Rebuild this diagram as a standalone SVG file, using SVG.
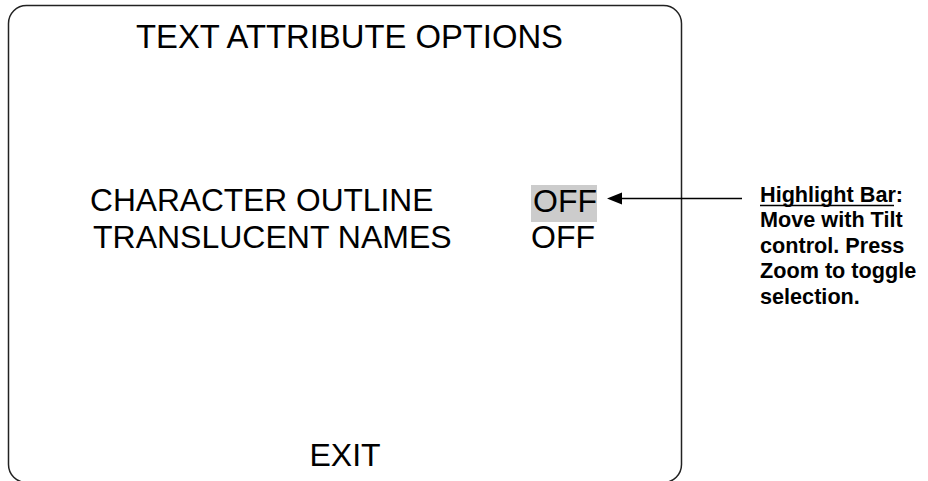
<svg xmlns="http://www.w3.org/2000/svg" width="928" height="481" viewBox="0 0 928 481">
<style>
.t{font-family:"Liberation Sans",Arial,sans-serif;font-size:32px;fill:#000}
.n{font-family:"Liberation Sans",Arial,sans-serif;font-size:22.8px;font-weight:bold;fill:#000}
</style>
<rect width="928" height="481" fill="#fff"/>
<g id="screen">
<rect x="8.5" y="5.5" width="673" height="477" rx="18" ry="18" fill="none" stroke="#222" stroke-width="1.5"/>
<text x="349.5" y="48" text-anchor="middle" style="font-family:'Liberation Sans',Arial,sans-serif;font-size:32.8px;fill:#000">TEXT ATTRIBUTE OPTIONS</text>
</g>
<g id="row-outline">
<text class="t" x="90" y="211" style="font-size:31.7px">CHARACTER OUTLINE</text>
<rect x="531" y="185" width="66" height="37" fill="#cccccc"/>
<text class="t" x="533" y="211.5">OFF</text>
</g>
<g id="row-names">
<text class="t" x="93" y="247.5">TRANSLUCENT NAMES</text>
<text class="t" x="531" y="248">OFF</text>
</g>
<g id="exit">
<text class="t" x="309.5" y="466">EXIT</text>
</g>
<g id="note">
<g transform="translate(760,0) scale(0.95,1)">
<text class="n" x="0" y="202">Highlight Bar:</text>
<text class="n" x="0" y="227.5">Move with Tilt</text>
<text class="n" x="0" y="253">control. Press</text>
<text class="n" x="0" y="278.5">Zoom to toggle</text>
<text class="n" x="0" y="304">selection.</text>
</g>
<line x1="760" y1="205.5" x2="894" y2="205.5" stroke="#000" stroke-width="1.5"/>
</g>
<g id="connectors">
<line x1="742" y1="198.5" x2="618" y2="198.5" stroke="#000" stroke-width="1.5"/>
<polygon points="607,198.5 622,192.5 622,204.5" fill="#000"/>
</g>
</svg>
